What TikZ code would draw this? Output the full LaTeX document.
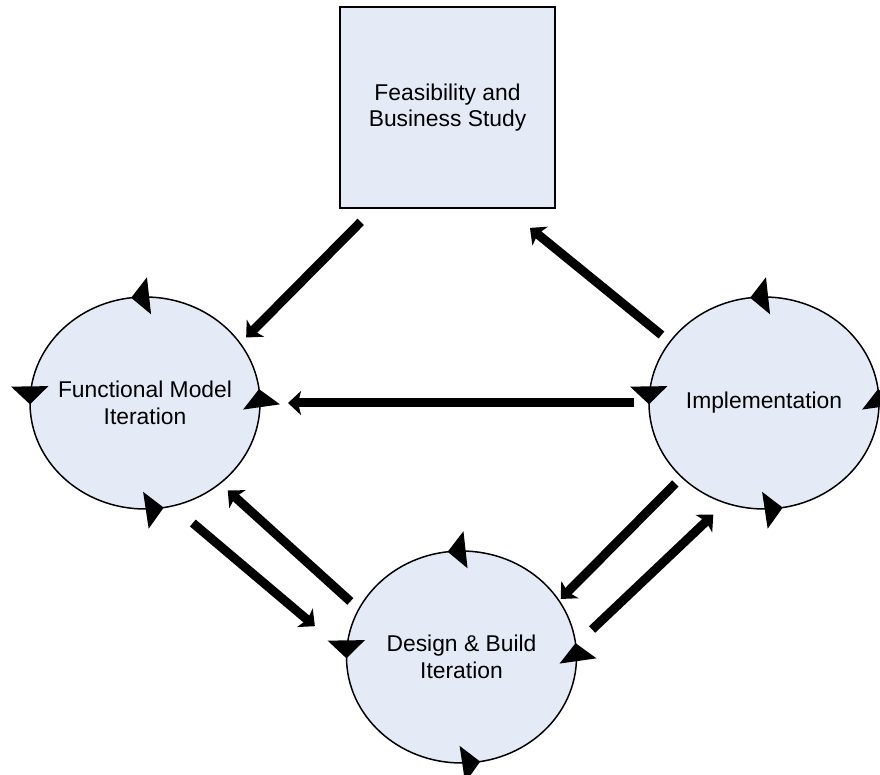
\documentclass[tikz,border=0pt]{standalone}
\usepackage{fontspec}
\setmainfont{Liberation Sans}
\usetikzlibrary{arrows.meta, shapes.geometric, decorations.markings}
\definecolor{phaseblue}{RGB}{228,235,246}

\begin{document}
\begin{tikzpicture}[
    cyc/.tip={Triangle[length=0.36cm, width=0.74cm]},
    box/.style={draw, line width=1.1pt, fill=phaseblue, minimum width=4.3cm, minimum height=4.02cm, inner sep=0pt, outer sep=0pt, align=center, font=\fontsize{13pt}{15pt}\selectfont},
    phase/.style={ellipse, draw, line width=0.85pt, fill=phaseblue, minimum width=4.6cm, minimum height=4.24cm, inner xsep=-0.15cm, inner ysep=0pt, outer sep=0pt, align=center, font=\fontsize{13pt}{15pt}\selectfont,
        postaction={decorate, decoration={markings,
            mark=at position 0.02 with {\arrow{cyc}},
            mark=at position 0.27 with {\arrow{cyc}},
            mark=at position 0.502 with {\arrow{cyc}},
            mark=at position 0.777 with {\arrow{cyc}}}}},
    flow/.style={line width=0.18cm, -{Stealth[length=0.26cm, width=0.48cm, inset=0.06cm]}}
]
\useasboundingbox (0,0) rectangle (17.6,15.5);

\node[box] (feas) at (8.95,13.35) {Feasibility and\\Business Study};
\node[phase] (func) at (2.9,7.44) {Functional Model\\Iteration};
\node[phase] (impl) at (15.28,7.44) {Implementation};
\node[phase] (design) at (9.23,2.36) {Design \& Build\\Iteration};

% Connections
\draw[flow, shorten <=0.39cm, shorten >=0.17cm] (feas.234) -- (func.32);
\draw[flow, shorten <=0.22cm, shorten >=0.63cm] (impl.147) -- (feas.300);
\draw[flow, shorten <=0.3cm, shorten >=0.56cm] (impl.west) -- (func.east);
\draw[flow, shorten <=0.53cm, shorten >=0.83cm] (func.285) -- (design.178);
\draw[flow, shorten <=0.23cm, shorten >=0.21cm] (design.155) -- (func.313);
\draw[flow, shorten <=0.18cm, shorten >=0.05cm] (impl.222) -- (design.30);
\draw[flow, shorten <=0.45cm, shorten >=0.34cm] (design.6) -- (impl.249);
\end{tikzpicture}
\end{document}
